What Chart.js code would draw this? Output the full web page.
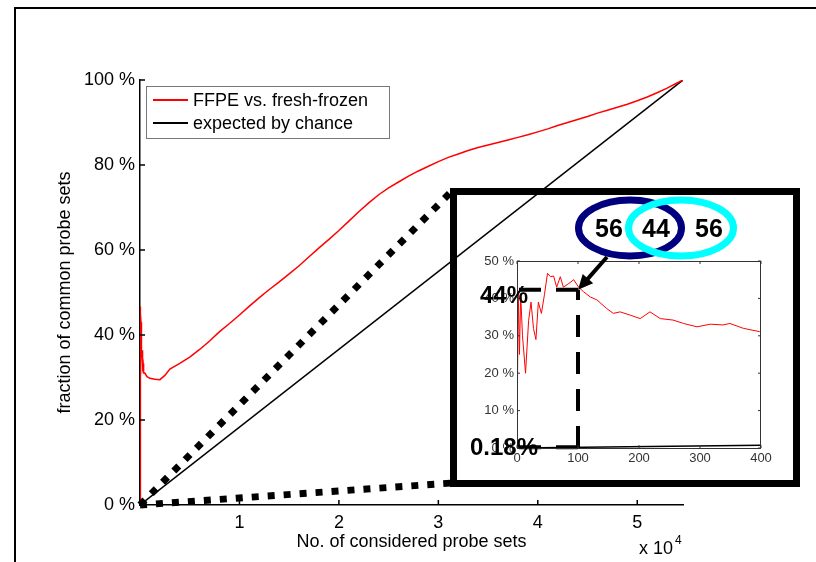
<!DOCTYPE html>
<html>
<head>
<meta charset="utf-8">
<title>Common probe sets</title>
<script src="https://cdn.jsdelivr.net/npm/chart.js@4.4.0/dist/chart.umd.min.js"></script>
<style>
  html, body { margin: 0; padding: 0; background: #fff; }
  #wrap { position: relative; width: 816px; height: 562px; overflow: hidden; }
  #frame { position: absolute; left: 14px; top: 7px; width: 820px; height: 570px;
           border-top: 2.5px solid #000; border-left: 2.5px solid #000; }
  #mainChart { position: absolute; left: 0; top: 0; }
  #insetChart { position: absolute; left: 450px; top: 188px; }
</style>
</head>
<body>
<div id="wrap">
  <div id="frame"></div>
  <canvas id="mainChart" width="816" height="562"></canvas>
  <canvas id="insetChart" width="350" height="299"></canvas>
</div>
<script>
// --- data ---
// number of considered probe sets (x) and fraction of common probe sets in % (y)
const probeCounts = [0, 2, 4, 6, 9, 14, 19, 23, 27, 31, 35, 40, 45, 50, 55, 60, 65, 71, 76, 85, 93,
  101, 109, 120, 131, 147, 158, 169, 186, 202, 218, 235, 256, 273, 295, 317, 338, 349, 371, 398,
  500, 700, 1000, 1500, 2000, 2500, 3000, 4000, 5000, 6000, 7000, 8000, 9000, 10000,
  11000, 12000, 13000, 14000, 15000, 16000, 17000, 18000, 19000, 20000, 21000, 22000,
  23000, 24000, 25000, 26000, 27000, 28000, 29000, 30000, 31000, 32000, 33000, 34000,
  35000, 36000, 37000, 38000, 39000, 40000, 41000, 42000, 43000, 44000, 45000, 46000,
  47000, 48000, 49000, 50000, 51000, 52000, 53000, 54000, 54600];
const commonPct = [0, 42, 25, 41, 30, 20, 34, 39, 32, 29, 39, 36, 41, 46.7, 45.8, 46, 43, 45.8, 43, 44, 45,
  43, 41.8, 40.4, 39.6, 37.3, 36, 36.4, 35.5, 34.6, 36.4, 34.6, 34.2, 33.3, 32.4, 33.1, 32.9, 33.3, 32, 31.1,
  31, 30.2, 29.8, 29.6, 29.5, 30.5, 32, 33.3, 34.8, 36.6, 38.6, 40.8, 42.7, 44.7,
  46.8, 48.8, 50.7, 52.5, 54.4, 56.3, 58.4, 60.5, 62.5, 64.6, 66.8, 69,
  71.1, 73, 74.6, 76, 77.4, 78.6, 79.7, 80.8, 81.8, 82.6, 83.4, 84.1,
  84.7, 85.3, 85.9, 86.5, 87.1, 87.8, 88.5, 89.3, 90, 90.7, 91.4, 92.2,
  92.9, 93.6, 94.3, 95.1, 96, 97, 98.1, 99.3, 100];
const totalProbes = 54600;
const chanceX = [0, 54600];
const chanceY = [0, 100];
const insetChanceX = [0, 400];
const insetChanceY = [0, 0.73];

const seriesLabels = ["FFPE vs. fresh-frozen", "expected by chance"];
const seriesColors = ["#ff0000", "#000000"];

const mainXTicks = [10000, 20000, 30000, 40000, 50000];
const mainYTicks = [0, 20, 40, 60, 80, 100];
const insetXTicks = [0, 100, 200, 300, 400];
const insetYTicks = [0, 10, 20, 30, 40, 50];

// marked point in the inset: after 100 probe sets
const markerX = 100;
const markerY = [42.3, 0.18];
const markerLabels = ["44%", "0.18%"];
// Venn numbers: only FFPE / common / only fresh-frozen
const vennValues = ["56", "44", "56"];

const FONT = "'Liberation Sans', Arial, Helvetica, sans-serif";

function pts(xs, ys) {
  return xs.map((x, i) => ({ x: x, y: ys[i] }));
}

// small inward ticks like the original plotting tool
function drawInwardTicks(chart, len, color, lw, mirror) {
  const ctx = chart.ctx;
  const a = chart.chartArea;
  const xs = chart.scales.x, ys = chart.scales.y;
  ctx.save();
  ctx.strokeStyle = color;
  ctx.lineWidth = lw;
  ctx.beginPath();
  xs.ticks.forEach((t) => {
    const px = xs.getPixelForValue(t.value);
    ctx.moveTo(px, a.bottom); ctx.lineTo(px, a.bottom - len);
    if (mirror) { ctx.moveTo(px, a.top); ctx.lineTo(px, a.top + len); }
  });
  ys.ticks.forEach((t) => {
    const py = ys.getPixelForValue(t.value);
    ctx.moveTo(a.left, py); ctx.lineTo(a.left + len, py);
    if (mirror) { ctx.moveTo(a.right, py); ctx.lineTo(a.right - len, py); }
  });
  ctx.stroke();
  ctx.restore();
}

const mainDecor = {
  id: "mainDecor",
  afterDatasetsDraw(chart) {
    const ctx = chart.ctx;
    const a = chart.chartArea;
    drawInwardTicks(chart, 5, "#000", 1.5, false);

    // legend box
    const bx = a.left + 6, by = a.top + 6;
    ctx.save();
    ctx.fillStyle = "#fff";
    ctx.fillRect(bx, by, 243, 52);
    ctx.strokeStyle = "#777";
    ctx.lineWidth = 1;
    ctx.strokeRect(bx + 0.5, by + 0.5, 243, 52);
    chart.data.datasets.forEach((ds, i) => {
      const ry = by + 14 + i * 23;
      ctx.strokeStyle = ds.borderColor;
      ctx.lineWidth = 2;
      ctx.beginPath();
      ctx.moveTo(bx + 7, ry);
      ctx.lineTo(bx + 42, ry);
      ctx.stroke();
      ctx.fillStyle = "#000";
      ctx.font = "18px " + FONT;
      ctx.textBaseline = "middle";
      ctx.fillText(ds.label, bx + 47, ry + 1);
    });

    // "x 10^4" exponent label
    ctx.fillStyle = "#000";
    ctx.textBaseline = "middle";
    ctx.font = "18px " + FONT;
    ctx.fillText("x 10", a.right - 44, 549);
    ctx.font = "12px " + FONT;
    ctx.fillText("4", a.right - 8, 541);

    // thick dotted zoom lines from origin to the inset box
    const ox = chart.scales.x.getPixelForValue(0);
    const oy = chart.scales.y.getPixelForValue(0);
    ctx.strokeStyle = "#000";
    ctx.lineWidth = 7;
    ctx.setLineDash([7, 9]);
    ctx.beginPath();
    ctx.moveTo(ox, oy);
    ctx.lineTo(452, 191);
    ctx.moveTo(ox, oy);
    ctx.lineTo(452, 483);
    ctx.stroke();
    ctx.restore();
  }
};

new Chart(document.getElementById("mainChart"), {
  type: "line",
  data: {
    datasets: [
      {
        label: seriesLabels[0],
        data: pts(probeCounts, commonPct),
        borderColor: seriesColors[0],
        borderWidth: 1.5,
        pointRadius: 0,
        tension: 0
      },
      {
        label: seriesLabels[1],
        data: pts(chanceX, chanceY),
        borderColor: seriesColors[1],
        borderWidth: 1.5,
        pointRadius: 0,
        tension: 0
      }
    ]
  },
  options: {
    responsive: false,
    animation: false,
    events: [],
    layout: { padding: { left: 40, top: 80, right: 133, bottom: 0 } },
    plugins: { legend: { display: false }, tooltip: { enabled: false } },
    scales: {
      x: {
        type: "linear",
        min: 0,
        max: totalProbes,
        afterBuildTicks: (s) => { s.ticks = mainXTicks.map((v) => ({ value: v })); },
        afterFit: (s) => { s.height = 57; },
        grid: { display: false, drawTicks: false },
        border: { color: "#000", width: 1.5 },
        ticks: {
          color: "#000",
          font: { family: FONT, size: 18 },
          padding: 7,
          maxRotation: 0,
          autoSkip: false,
          callback: (v) => v / 10000
        },
        title: {
          display: true,
          text: "No. of considered probe sets",
          color: "#000",
          font: { family: FONT, size: 18 },
          padding: { top: 0, bottom: 9 }
        }
      },
      y: {
        min: 0,
        max: 100,
        afterBuildTicks: (s) => { s.ticks = mainYTicks.map((v) => ({ value: v })); },
        afterFit: (s) => { s.width = 100; },
        grid: { display: false, drawTicks: false },
        border: { color: "#000", width: 1.5 },
        ticks: {
          color: "#000",
          font: { family: FONT, size: 18 },
          padding: 5,
          autoSkip: false,
          callback: (v) => v + " %"
        },
        title: {
          display: true,
          text: "fraction of common probe sets",
          color: "#000",
          font: { family: FONT, size: 18 },
          padding: { top: 14, bottom: 0 }
        }
      }
    }
  },
  plugins: [mainDecor]
});

const insetDecor = {
  id: "insetDecor",
  beforeDraw(chart) {
    const ctx = chart.ctx;
    ctx.save();
    ctx.strokeStyle = "#000";
    ctx.lineWidth = 7;
    ctx.strokeRect(3.5, 3.5, chart.width - 7, chart.height - 7);
    ctx.restore();
  },
  afterDatasetsDraw(chart) {
    const ctx = chart.ctx;
    const a = chart.chartArea;
    const xs = chart.scales.x, ys = chart.scales.y;
    ctx.save();
    ctx.strokeStyle = "#333";
    ctx.lineWidth = 1;
    ctx.strokeRect(a.left + 0.5, a.top + 0.5, a.right - a.left - 1, a.bottom - a.top);
    ctx.restore();
    drawInwardTicks(chart, 3, "#333", 1, true);

    ctx.save();
    // Venn diagram
    ctx.lineWidth = 7;
    ctx.strokeStyle = "#00007f";
    ctx.beginPath();
    ctx.ellipse(180, 40, 51.5, 28, 0, 0, Math.PI * 2);
    ctx.stroke();
    ctx.strokeStyle = "#00ffff";
    ctx.beginPath();
    ctx.ellipse(231, 40, 52.5, 28, 0, 0, Math.PI * 2);
    ctx.stroke();
    ctx.fillStyle = "#000";
    ctx.font = "bold 25px " + FONT;
    ctx.textAlign = "center";
    ctx.textBaseline = "middle";
    ctx.fillText(vennValues[0], 159, 42);
    ctx.fillText(vennValues[1], 206, 42);
    ctx.fillText(vennValues[2], 259, 42);

    // arrow from Venn to the marked point
    const tx = xs.getPixelForValue(markerX);
    const ty = ys.getPixelForValue(markerY[0]);
    const sx = 157, sy = 69;
    const ang = Math.atan2(ty - sy, tx - sx);
    ctx.strokeStyle = "#000";
    ctx.lineWidth = 4;
    ctx.beginPath();
    ctx.moveTo(sx, sy);
    ctx.lineTo(tx - 10 * Math.cos(ang), ty - 10 * Math.sin(ang));
    ctx.stroke();
    ctx.beginPath();
    ctx.moveTo(tx, ty);
    ctx.lineTo(tx - 15 * Math.cos(ang) + 7 * Math.sin(ang), ty - 15 * Math.sin(ang) - 7 * Math.cos(ang));
    ctx.lineTo(tx - 15 * Math.cos(ang) - 7 * Math.sin(ang), ty - 15 * Math.sin(ang) + 7 * Math.cos(ang));
    ctx.closePath();
    ctx.fill();

    // percentage labels
    ctx.textAlign = "left";
    ctx.font = "bold 24px " + FONT;
    ctx.fillText(markerLabels[0], 30, ys.getPixelForValue(markerY[0]) + 7);
    ctx.fillText(markerLabels[1], 20, ys.getPixelForValue(markerY[1]) + 1);
    ctx.restore();
  }
};

const dashStyle = {
  borderColor: "#000",
  borderWidth: 4,
  borderDash: [22, 15],
  pointRadius: 0,
  tension: 0,
  clip: false
};

new Chart(document.getElementById("insetChart"), {
  type: "line",
  data: {
    datasets: [
      {
        label: seriesLabels[0],
        data: pts(probeCounts, commonPct).filter((p) => p.x <= 400),
        borderColor: seriesColors[0],
        borderWidth: 1,
        pointRadius: 0,
        tension: 0
      },
      {
        label: seriesLabels[1],
        data: pts(insetChanceX, insetChanceY),
        borderColor: seriesColors[1],
        borderWidth: 1.5,
        pointRadius: 0,
        tension: 0
      },
      Object.assign({ data: [{ x: markerX, y: markerY[0] }, { x: 0, y: markerY[0] }] }, dashStyle),
      Object.assign({ data: [{ x: markerX, y: 0 }, { x: markerX, y: markerY[0] }] }, dashStyle),
      Object.assign({ data: [{ x: markerX, y: markerY[1] }, { x: 0, y: markerY[1] }] }, dashStyle)
    ]
  },
  options: {
    responsive: false,
    animation: false,
    events: [],
    layout: { padding: { left: 0, top: 73, right: 39, bottom: 0 } },
    plugins: { legend: { display: false }, tooltip: { enabled: false } },
    scales: {
      x: {
        type: "linear",
        min: 0,
        max: 400,
        afterBuildTicks: (s) => { s.ticks = insetXTicks.map((v) => ({ value: v })); },
        afterFit: (s) => { s.height = 39; },
        grid: { display: false, drawTicks: false },
        border: { display: false },
        ticks: { color: "#333", font: { family: FONT, size: 13 }, padding: 3, maxRotation: 0, autoSkip: false }
      },
      y: {
        min: 0,
        max: 50,
        afterBuildTicks: (s) => { s.ticks = insetYTicks.map((v) => ({ value: v })); },
        afterFit: (s) => { s.width = 67; },
        grid: { display: false, drawTicks: false },
        border: { display: false },
        ticks: { color: "#333", font: { family: FONT, size: 13 }, padding: 3, autoSkip: false, callback: (v) => v + " %" }
      }
    }
  },
  plugins: [insetDecor]
});
</script>
</body>
</html>
